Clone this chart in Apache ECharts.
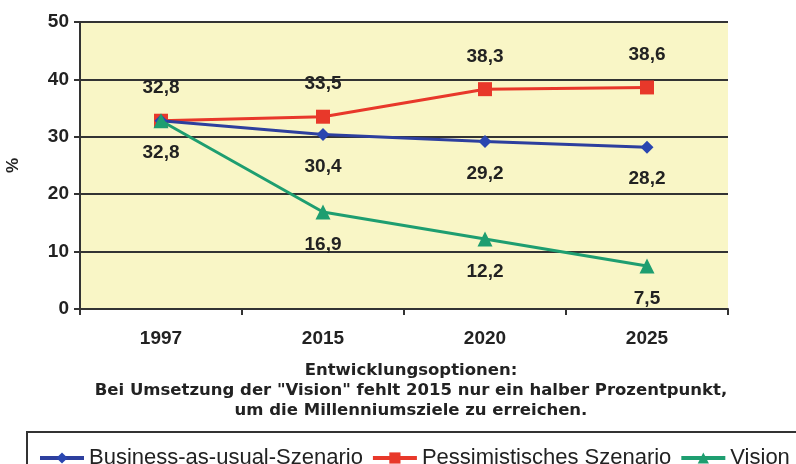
<!DOCTYPE html>
<html>
<head>
<meta charset="utf-8">
<script src="https://cdn.jsdelivr.net/npm/echarts@6/dist/echarts.min.js"></script>
<style>
  html, body { margin: 0; padding: 0; background: #fff; }
  #chart { width: 796px; height: 464px; }
</style>
</head>
<body>
<div id="chart"></div>
<script>
var years = ['1997', '2015', '2020', '2025'];
var businessAsUsual = [32.8, 30.4, 29.2, 28.2];
var pessimistic = [32.8, 33.5, 38.3, 38.6];
var vision = [32.8, 16.9, 12.2, 7.5];
var seriesNames = ['Business-as-usual-Szenario', 'Pessimistisches Szenario', 'Vision'];
var footnote = 'Entwicklungsoptionen:\nBei Umsetzung der "Vision" fehlt 2015 nur ein halber Prozentpunkt,\num die Millenniumsziele zu erreichen.';

var font = 'Arial, "Liberation Sans", sans-serif';
var fmt = function (p) { return String(p.value).replace('.', ','); };

var chart = echarts.init(document.getElementById('chart'));

// label settings per series: which points get labels and where
function labels(pos, skipFirst) {
    return {
        show: true,
        position: pos,
        distance: 16,
        fontFamily: font,
        fontSize: 19,
        fontWeight: 'bold',
        color: '#222',
        formatter: function (p) {
            if (skipFirst && p.dataIndex === 0) return '';
            return fmt(p);
        }
    };
}

chart.setOption({
    animation: false,
    title: {
        text: footnote,
        left: 406,
        top: 356,
        textAlign: 'center',
        textStyle: {
            fontFamily: '"DejaVu Sans", Arial, sans-serif',
            fontSize: 16.5,
            fontWeight: 'bold',
            color: '#222',
            lineHeight: 20,
            align: 'center'
        }
    },
    graphic: [{
        type: 'rect',
        shape: { x: 27, y: 432, width: 800, height: 60 },
        style: { fill: 'none', stroke: '#333', lineWidth: 2 },
        silent: true
    }],
    legend: {
        data: seriesNames,
        left: 33,
        top: 442,
        itemWidth: 44,
        itemHeight: 14,
        itemGap: 8,
        lineStyle: { width: 4 },
        textStyle: { fontFamily: font, fontSize: 22, color: '#222' }
    },
    grid: {
        left: 80,
        right: 68,
        top: 22,
        bottom: 155,
        outerBoundsMode: 'none',
        show: true,
        backgroundColor: '#f9f6c6',
        borderWidth: 0
    },
    xAxis: {
        type: 'category',
        data: years,
        boundaryGap: true,
        axisLine: { lineStyle: { color: '#333', width: 2 } },
        axisTick: { show: true, length: 6, lineStyle: { color: '#333', width: 2 } },
        axisLabel: {
            margin: 20,
            fontFamily: font,
            fontSize: 19,
            fontWeight: 'bold',
            color: '#222'
        }
    },
    yAxis: {
        type: 'value',
        min: 0,
        max: 50,
        interval: 10,
        name: '%',
        nameLocation: 'middle',
        nameRotate: 90,
        nameGap: 58,
        nameTextStyle: { fontFamily: font, fontSize: 17, fontWeight: 'bold', color: '#222' },
        axisLine: { show: true, lineStyle: { color: '#333', width: 2 } },
        axisTick: { show: true, length: 6, lineStyle: { color: '#333', width: 2 } },
        splitLine: { lineStyle: { color: '#333', width: 2 } },
        axisLabel: {
            margin: 11,
            fontFamily: font,
            fontSize: 19,
            fontWeight: 'bold',
            color: '#222'
        }
    },
    series: [
        {
            name: seriesNames[0],
            type: 'line',
            data: businessAsUsual,
            symbol: 'diamond',
            symbolSize: 13,
            color: '#2a46b0',
            lineStyle: { width: 3, color: '#2d3f9e' },
            label: labels('bottom', false),
            z: 3
        },
        {
            name: seriesNames[1],
            type: 'line',
            data: pessimistic,
            symbol: 'rect',
            symbolSize: 14,
            color: '#e8382a',
            lineStyle: { width: 3 },
            label: labels('top', false),
            z: 2
        },
        {
            name: seriesNames[2],
            type: 'line',
            data: vision,
            symbol: 'triangle',
            symbolSize: 15,
            color: '#1e9e70',
            lineStyle: { width: 3 },
            label: labels('bottom', true),
            z: 4
        }
    ]
});
</script>
</body>
</html>
